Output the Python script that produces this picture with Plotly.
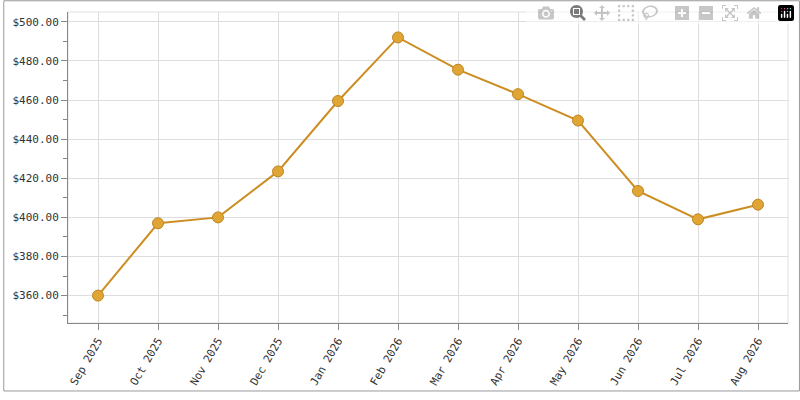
import plotly.graph_objects as go

months = ["Sep 2025","Oct 2025","Nov 2025","Dec 2025","Jan 2026","Feb 2026",
          "Mar 2026","Apr 2026","May 2026","Jun 2026","Jul 2026","Aug 2026"]
prices = [360, 397, 400, 423.5, 459.5, 492, 475.5, 463, 449.5, 413.5, 399, 406.5]

L, R, T, B = 65, 12, 12, 70
pw, ph = 800 - L - R, 400 - T - B

fig = go.Figure(go.Scatter(
    x=list(range(len(months))), y=prices, mode="lines+markers",
    line=dict(color="#CC8E22", width=2),
    marker=dict(size=11, color="#E0A635", line=dict(color="#C08420", width=1)),
))
fig.update_layout(
    width=800, height=400, margin=dict(l=L, r=R, t=T, b=B),
    paper_bgcolor="white", plot_bgcolor="white", showlegend=False,
    font=dict(family="DejaVu Sans Mono", size=11, color="#333"),
    shapes=[
        dict(type="rect", xref="paper", yref="paper", x0=0, y0=0, x1=1, y1=1,
             line=dict(color="#e0e0e0", width=1), layer="below"),
        dict(type="rect", xref="paper", yref="paper",
             x0=-(L - 0.5) / pw, x1=1 + (R - 0.5) / pw,
             y0=-(B - 0.5) / ph, y1=1 + (T - 0.5) / ph,
             line=dict(color="#999", width=1), layer="below"),
    ],
)
fig.update_xaxes(range=[-0.5, 11.5], tickmode="array", tickvals=list(range(12)),
                 ticktext=months, tickangle=-60, showgrid=True, gridcolor="#ddd",
                 showline=True, linecolor="#888", ticks="outside", ticklen=6, tickcolor="#888",
                 zeroline=False)
fig.update_yaxes(range=[346, 505], dtick=20, tickformat="$.2f", showgrid=True, gridcolor="#ddd",
                 showline=True, linecolor="#888", ticks="outside", ticklen=6, tickcolor="#888",
                 minor=dict(dtick=10, ticks="outside", ticklen=4, tickcolor="#888", showgrid=False),
                 zeroline=False)
fig.write_html("out.html", post_script="document.body.style.margin='0';")
